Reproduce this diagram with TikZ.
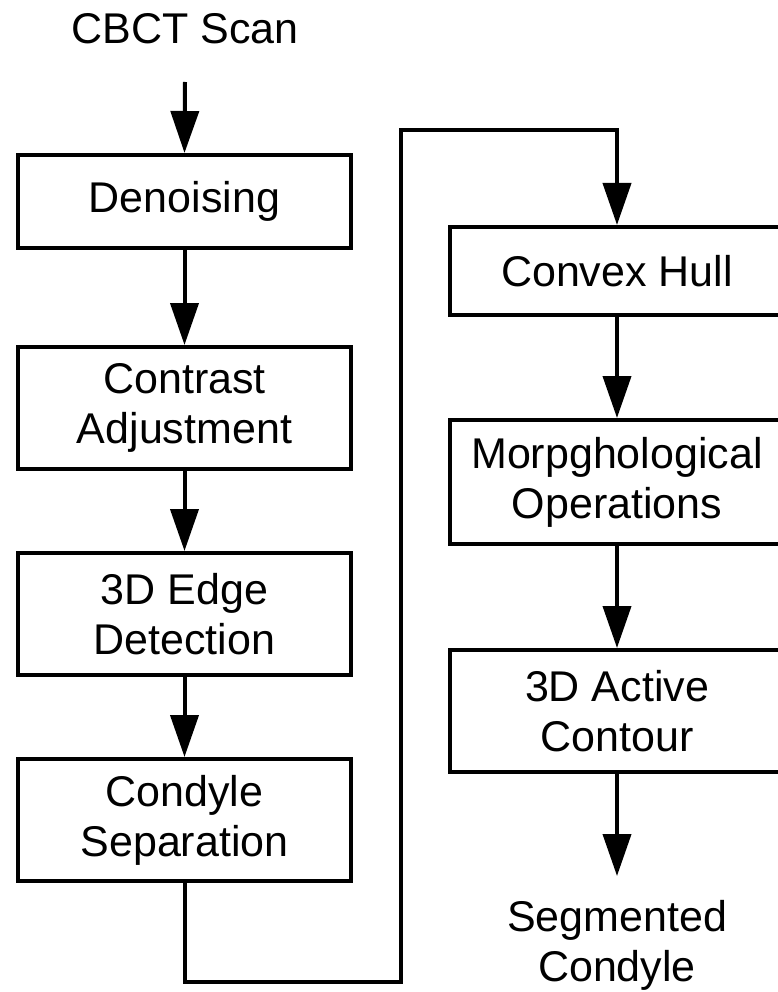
\documentclass[tikz,border=0pt]{standalone}
\usepackage{fontspec}
\setmainfont{Liberation Sans}
\usetikzlibrary{arrows.meta}
\tikzset{
  box/.style={draw=black, line width=4pt, fill=white, inner sep=0pt, align=center,
    font=\fontsize{43}{50}\selectfont},
  lbl/.style={inner sep=0pt, align=center, font=\fontsize{43}{50}\selectfont},
  arr/.style={line width=4pt, -{Triangle[length=42pt,width=28pt]}},
  link/.style={line width=4pt, line join=miter}
}
\begin{document}
\begin{tikzpicture}[x=1pt,y=-1pt]
\useasboundingbox (0,0) rectangle (778,992);
\fill[white] (0,0) rectangle (778,992);
% left column
\node[lbl] (cbct) at (185,29) {CBCT Scan};
\coordinate (cbctout) at (185,82);
\node[box, minimum width=333pt, minimum height=93pt] (den) at (184.5,201.5) {Denoising};
\node[box, minimum width=333pt, minimum height=122pt] (con) at (184.5,408) {Contrast\\Adjustment};
\node[box, minimum width=333pt, minimum height=122pt] (edge) at (184.5,614) {3D Edge\\Detection};
\node[box, minimum width=333pt, minimum height=122pt] (cond) at (184.5,820) {Condyle\\Separation};
% right column
\node[box, minimum width=334pt, minimum height=88pt] (hull) at (617,271) {Convex Hull};
\node[box, minimum width=334pt, minimum height=124pt] (morph) at (617,482) {Morpghological\\Operations};
\node[box, minimum width=334pt, minimum height=122pt] (act) at (617,711) {3D Active\\Contour};
\node[lbl] (seg) at (617,945) {Segmented\\Condyle};
\coordinate (segin) at (617,876);
% connectors
\draw[arr] (cbctout) -- (den.north);
\draw[arr] (den.south) -- (con.north);
\draw[arr] (con.south) -- (edge.north);
\draw[arr] (edge.south) -- (cond.north);
\draw[link, -{Triangle[length=42pt,width=28pt]}] (cond.south) -- ++(0,99) -| (401,130) -| (hull.north);
\draw[arr] (hull.south) -- (morph.north);
\draw[arr] (morph.south) -- (act.north);
\draw[arr] (act.south) -- (segin);
\end{tikzpicture}
\end{document}
